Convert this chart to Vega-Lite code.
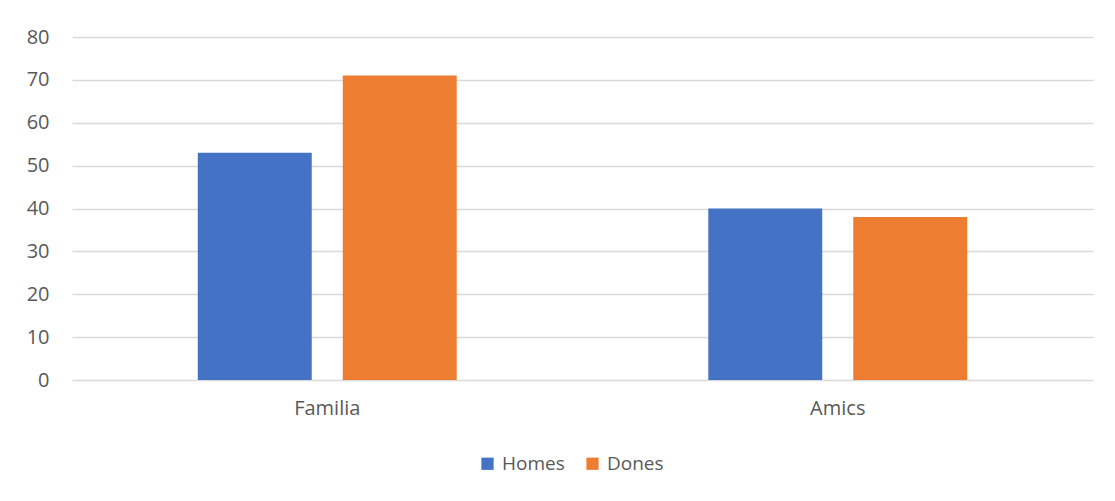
{
  "$schema": "https://vega.github.io/schema/vega-lite/v6.json",
  "width": 1021,
  "height": 343,
  "autosize": {"type": "none"},
  "padding": {"left": 72, "top": 37, "right": 22, "bottom": 121},
  "background": "white",
  "data": {"values": [
    {"grup": "Familia", "sexe": "Homes", "valor": 53},
    {"grup": "Familia", "sexe": "Dones", "valor": 71},
    {"grup": "Amics", "sexe": "Homes", "valor": 40},
    {"grup": "Amics", "sexe": "Dones", "valor": 38}
  ]},
  "mark": {"type": "bar"},
  "encoding": {
    "x": {"field": "grup", "type": "nominal", "sort": ["Familia", "Amics"],
      "scale": {"paddingInner": 0.4928, "paddingOuter": 0.2464},
      "axis": {"title": null, "labelAngle": 0, "domain": false, "ticks": false, "labelPadding": 18, "labelFontSize": 20, "labelColor": "#595959", "labelFont": "Open Sans"}},
    "xOffset": {"field": "sexe", "type": "nominal", "sort": ["Homes", "Dones"],
      "scale": {"paddingInner": 0.214, "paddingOuter": 0}},
    "y": {"field": "valor", "type": "quantitative",
      "scale": {"domain": [0, 80]},
      "axis": {"title": null, "values": [0,10,20,30,40,50,60,70,80], "domain": false, "ticks": false, "labelPadding": 23, "labelFontSize": 20, "labelColor": "#595959", "labelFont": "Open Sans", "gridColor": "#d9d9d9", "gridWidth": 1.3}},
    "color": {"field": "sexe", "type": "nominal", "sort": ["Homes", "Dones"],
      "scale": {"domain": ["Homes", "Dones"], "range": ["#4472C4", "#ED7D31"]},
      "legend": {"title": null, "orient": "none", "legendX": 406, "legendY": 417, "padding": 0, "direction": "horizontal",
        "symbolType": "square", "symbolSize": 150, "symbolStrokeWidth": 0, "symbolOffset": 0,
        "labelFontSize": 19, "labelColor": "#595959", "labelFont": "Open Sans", "columnPadding": 18, "labelOffset": 5}}
  },
  "config": {"view": {"stroke": null}}
}
